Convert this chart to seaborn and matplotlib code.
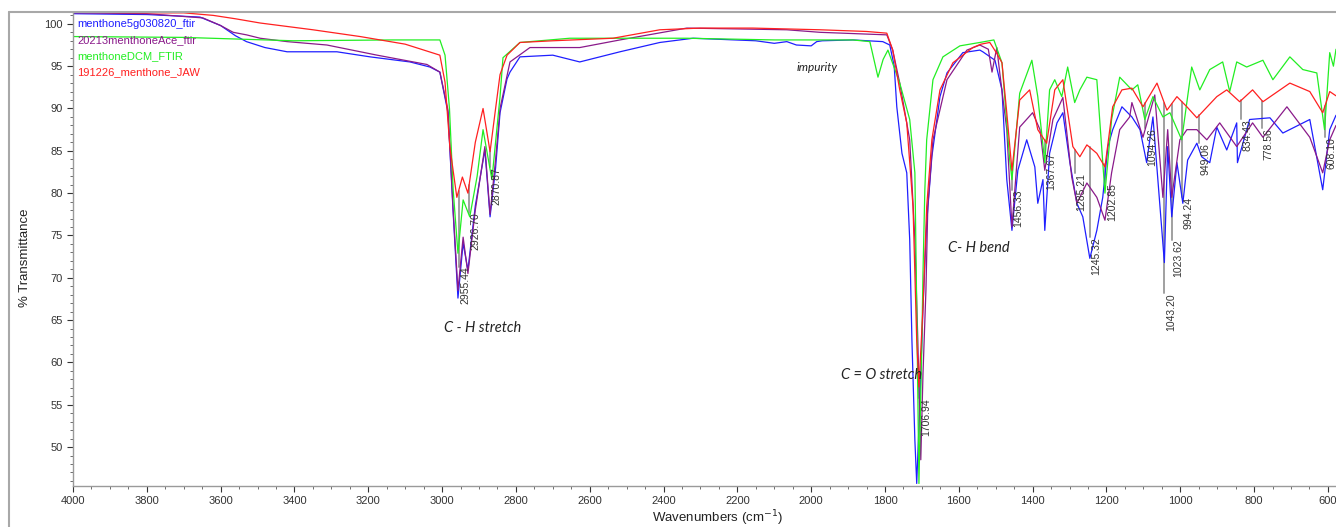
import numpy as np
import pandas as pd
import seaborn as sns
import matplotlib.pyplot as plt
from matplotlib.lines import Line2D
from matplotlib.ticker import MultipleLocator

# spectra (wavenumber cm-1, % transmittance)
blue_wn = [4000, 3800, 3656, 3600, 3560, 3530, 3480, 3420, 3285, 3195, 3087, 3033, 3006, 2984,
           2970, 2957, 2943, 2930, 2910, 2884, 2870, 2855, 2843, 2824, 2816, 2789, 2700,
           2627, 2518, 2410, 2320, 2150, 2100, 2066, 2040, 2000, 1985, 1970, 1887, 1806,
           1787, 1775, 1768, 1754, 1741, 1733, 1727, 1719, 1714, 1706, 1697, 1687, 1673,
           1651, 1632, 1589, 1543, 1535, 1502, 1483, 1470, 1456, 1440, 1416, 1394, 1386,
           1372, 1367, 1354, 1334, 1318, 1299, 1280, 1264, 1245, 1226, 1210, 1196, 1183,
           1158, 1131, 1109, 1091, 1074, 1043, 1034, 1023, 1009, 993, 980, 955, 942, 920,
           901, 874, 847, 845, 812, 757, 722, 649, 614, 595, 578]
blue_t = [101.2, 101.1, 100.8, 99.8, 98.6, 97.9, 97.2, 96.7, 96.7, 96.1, 95.5, 94.9, 94.3, 89.5,
          77.7, 67.6, 74.1, 70.9, 78.5, 85.1, 77.2, 83.0, 89.5, 93.5, 94.3, 96.1, 96.3,
          95.5, 96.7, 97.8, 98.3, 98.0, 97.7, 97.9, 97.5, 97.4, 97.9, 98.0, 98.1, 97.9,
          97.5, 95.0, 90.2, 84.7, 82.4, 74.5, 62.6, 50.8, 45.7, 54.7, 66.5, 76.5, 84.3,
          91.4, 94.2, 96.6, 96.9, 96.7, 95.7, 92.2, 81.6, 75.6, 82.7, 86.3, 83.1, 78.8,
          81.6, 75.6, 84.7, 88.3, 89.5, 83.6, 78.8, 77.2, 72.3, 75.6, 79.5, 85.5, 87.5,
          90.2, 89.0, 87.5, 83.6, 89.0, 71.8, 85.5, 77.2, 83.6, 78.8, 83.9, 85.9, 84.3, 83.6,
          87.8, 85.1, 88.3, 83.6, 88.7, 88.9, 87.1, 88.7, 80.4, 87.5, 89.2]

purple_wn = [4000, 3800, 3648, 3600, 3566, 3530, 3493, 3420, 3312, 3176, 3041, 3006, 2984,
             2970, 2957, 2943, 2930, 2910, 2884, 2870, 2855, 2843, 2816, 2762, 2627, 2518,
             2337, 2066, 1976, 1795, 1779, 1760, 1733, 1719, 1711, 1703, 1697, 1689, 1684,
             1670, 1632, 1578, 1543, 1520, 1510, 1497, 1489, 1470, 1456, 1435, 1400, 1380,
             1367, 1345, 1318, 1294, 1280, 1253, 1226, 1204, 1186, 1164, 1137, 1131, 1101,
             1069, 1047, 1034, 1023, 1001, 982, 955, 928, 893, 847, 804, 776, 711, 649, 614,
             595, 578]
purple_t = [101.3, 101.2, 100.7, 99.8, 99.0, 98.7, 98.3, 97.9, 97.5, 96.3, 95.2, 94.3, 89.8,
            78.0, 68.5, 74.8, 70.5, 78.0, 85.5, 77.5, 84.0, 90.0, 95.5, 97.2, 97.2, 98.1,
            99.5, 99.3, 99.0, 98.7, 96.9, 93.0, 86.3, 74.5, 62.6, 48.5, 58.7, 68.6, 78.4,
            86.3, 93.4, 96.9, 97.5, 97.0, 94.3, 97.2, 94.2, 87.5, 76.0, 87.8, 89.5, 87.5,
            82.7, 88.7, 91.3, 81.9, 78.8, 81.2, 79.5, 76.8, 82.4, 87.5, 89.0, 90.7, 86.6,
            91.6, 79.5, 87.5, 79.5, 86.3, 87.5, 87.5, 86.3, 88.3, 85.5, 88.3, 86.6, 90.2, 86.6,
            82.4, 86.3, 88.0]

green_wn = [4000, 3700, 3404, 3133, 3006, 2992, 2980, 2970, 2957, 2943, 2925, 2905, 2889,
            2865, 2843, 2835, 2789, 2654, 2337, 2100, 1887, 1841, 1819, 1805, 1792, 1760,
            1733, 1719, 1714, 1708, 1700, 1697, 1692, 1687, 1670, 1643, 1597, 1543, 1505,
            1483, 1462, 1456, 1435, 1402, 1386, 1367, 1354, 1340, 1321, 1305, 1286, 1272,
            1253, 1226, 1204, 1186, 1164, 1131, 1115, 1096, 1074, 1047, 1028, 996, 969,
            947, 920, 885, 866, 847, 820, 776, 749, 703, 668, 630, 609, 595, 585, 578]
green_t = [98.5, 98.4, 98.0, 98.1, 98.1, 96.3, 90.0, 80.4, 72.9, 79.2, 77.2, 82.0, 87.5,
           81.6, 91.4, 96.0, 97.8, 98.3, 98.3, 98.1, 98.1, 97.9, 93.7, 95.8, 96.9, 93.0,
           88.7, 82.4, 66.5, 45.7, 62.6, 70.6, 80.4, 86.3, 93.4, 96.1, 97.4, 97.8, 98.1,
           95.4, 83.9, 81.6, 91.8, 95.7, 91.4, 83.6, 92.2, 93.4, 91.4, 94.9, 90.7, 92.2,
           93.7, 93.4, 80.0, 88.7, 93.7, 92.2, 92.8, 88.7, 91.4, 89.0, 89.5, 86.3, 94.9,
           92.2, 94.6, 95.5, 92.0, 95.5, 94.9, 95.7, 93.4, 96.1, 94.6, 94.2, 87.5, 96.6, 95.0, 97.0]

red_wn = [4000, 3800, 3700, 3620, 3560, 3493, 3350, 3222, 3100, 3006, 2992, 2979, 2960,
          2945, 2930, 2910, 2889, 2870, 2855, 2843, 2824, 2789, 2700, 2537, 2410, 2300,
          2158, 1976, 1850, 1795, 1779, 1760, 1741, 1724, 1714, 1708, 1697, 1687, 1673,
          1651, 1616, 1562, 1540, 1516, 1497, 1483, 1470, 1456, 1435, 1408, 1386, 1362,
          1340, 1318, 1291, 1272, 1253, 1226, 1204, 1183, 1158, 1131, 1101, 1063, 1036,
          1009, 982, 955, 901, 874, 839, 804, 776, 703, 649, 614, 595, 578]
red_t = [101.4, 101.3, 101.3, 101.0, 100.6, 100.1, 99.3, 98.5, 97.6, 96.3, 93.1, 85.5, 79.5,
         81.9, 80.0, 86.0, 90.0, 84.9, 90.0, 94.0, 96.3, 97.8, 98.0, 98.3, 99.3, 99.5,
         99.5, 99.3, 99.1, 98.9, 96.9, 92.2, 88.3, 78.4, 62.6, 57.1, 66.5, 78.4, 86.3,
         92.2, 95.4, 97.2, 97.6, 97.8, 96.5, 95.4, 89.5, 82.7, 91.0, 92.2, 87.5, 85.9,
         92.2, 93.4, 85.5, 84.3, 85.7, 84.7, 83.1, 90.2, 92.2, 92.4, 90.2, 93.0, 89.8,
         91.4, 90.2, 88.9, 91.4, 92.2, 90.8, 92.2, 90.8, 93.0, 92.0, 89.5, 92.0, 91.5]

sample_names = ["menthone5g030820_ftir", "20213menthoneAce_ftir",
                "menthoneDCM_FTIR", "191226_menthone_JAW"]
sample_colors = ["#1f1fff", "#8a1a8a", "#22ee22", "#ff2020"]

peak_wn = [2955.44, 2926.70, 2870.87, 1706.94, 1456.33, 1367.67, 1285.21, 1245.32,
           1202.85, 1094.26, 1043.20, 1023.62, 994.24, 949.06, 834.43, 778.56, 608.10]
peak_label_t = [71.3, 77.7, 83.1, 55.8, 80.4, 84.8, 82.4, 74.8,
                81.2, 87.7, 68.2, 74.5, 79.6, 85.9, 88.7, 87.7, 86.6]

notes = ["C - H stretch", "C = O stretch", "C- H bend", "impurity"]
note_wn = [2995, 1919, 1630, 2039]
note_t = [64.1, 58.5, 73.5, 94.8]
note_size = [10.5, 10.5, 10.5, 8.5]

frames = []
for name, wn, t in zip(sample_names,
                       [blue_wn, purple_wn, green_wn, red_wn],
                       [blue_t, purple_t, green_t, red_t]):
    frames.append(pd.DataFrame({"wn": wn, "T": t, "sample": name}))
df = pd.concat(frames, ignore_index=True)

sns.set_style("white")
plt.rcParams["font.family"] = ["Liberation Sans", "DejaVu Sans"]

fig = plt.figure(figsize=(13.36, 5.27), dpi=100)
ax = fig.add_axes([73 / 1336, 41 / 527, 1 - 73 / 1336, 474 / 527])

# peak marker lines sit under the spectra, from the red trace down to the label
red_at_peak = np.interp(peak_wn, red_wn[::-1], red_t[::-1])
for wn, top, lab in zip(peak_wn, red_at_peak, peak_label_t):
    ax.plot([wn, wn], [top, lab], color="#a0a0a0", lw=1.4, zorder=1)
    ax.text(wn - 4, lab, f"{wn:.2f}", rotation=90, ha="left", va="top",
            fontsize=7.5, color="#333333", zorder=3)

sns.lineplot(data=df, x="wn", y="T", hue="sample", hue_order=sample_names,
             palette=sample_colors, estimator=None, sort=False, lw=0.9,
             legend=False, ax=ax, zorder=2)

for txt, wn, t, fs in zip(notes, note_wn, note_t, note_size):
    ax.text(wn, t, txt, ha="left", va="center", fontsize=fs, style="italic",
            family=["Lato", "DejaVu Sans"], color="#222222")

# legend as coloured names, top left
for i, (name, col) in enumerate(zip(sample_names, sample_colors)):
    fig.text(77 / 1336, 1 - (24 + 16 * i) / 527, name, color=col,
             fontsize=8, va="center", ha="left")

ax.set_xlim(4000, 578)
ax.set_ylim(45.4, 101.4)
ax.xaxis.set_major_locator(MultipleLocator(200))
ax.xaxis.set_minor_locator(MultipleLocator(50))
ax.yaxis.set_major_locator(MultipleLocator(5))
ax.yaxis.set_minor_locator(MultipleLocator(1))
ax.set_yticks(np.arange(50, 101, 5))
ax.tick_params(axis="both", which="major", direction="out", length=4, width=0.8,
               labelsize=8, colors="#333333", bottom=True, left=True)
ax.tick_params(axis="both", which="minor", direction="out", length=2, width=0.6,
               color="#555555", bottom=True, left=True)

for side in ["top", "right"]:
    ax.spines[side].set_visible(False)
for side in ["left", "bottom"]:
    ax.spines[side].set_color("#9a9a9a")
    ax.spines[side].set_linewidth(1.0)

ax.set_xlabel("Wavenumbers (cm$^{-1}$)", fontsize=9.5, color="#222222")
ax.xaxis.set_label_coords(0.51, -0.068)
ax.xaxis.label.set_va("center")
ax.set_ylabel("% Transmittance", fontsize=9.5, color="#222222")
ax.yaxis.set_label_coords(-0.038, 0.481)
ax.yaxis.label.set_va("center")

# outer grey frame of the original window
fig.add_artist(Line2D([9 / 1336, 9 / 1336], [0, 1 - 12 / 527], color="#a8a8a8", lw=1.5))
fig.add_artist(Line2D([9 / 1336, 1], [1 - 12 / 527, 1 - 12 / 527], color="#a8a8a8", lw=1.5))

fig.savefig("out.png", dpi=100)
